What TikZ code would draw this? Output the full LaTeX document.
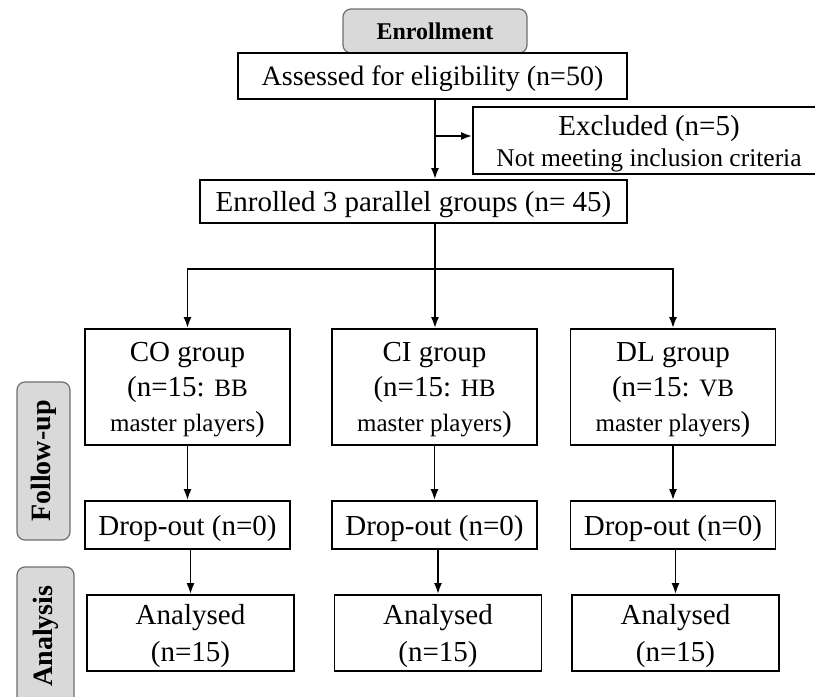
\documentclass[tikz,border=0pt]{standalone}
\usepackage{fontspec}
\setmainfont{Liberation Serif}
\usetikzlibrary{arrows.meta}
\definecolor{tabgray}{HTML}{D9D9D9}
\definecolor{tabline}{HTML}{6E6E6E}
\newcommand{\subsz}{\fontsize{25}{35}\selectfont}
\tikzstyle{phase} = [rectangle, rounded corners=8pt,
draw=tabline,
line width=1.2pt,
fill=tabgray,
inner sep=0pt,
text centered,
font=\fontsize{28}{32}\selectfont\bfseries]
\tikzstyle{box} = [rectangle,
draw=black,
line width=1.8pt,
fill=white,
inner sep=0pt,
text centered,
text depth=0pt,
align=center,
font=\fontsize{29}{35}\selectfont]
\tikzstyle{group} = [box,
minimum width=205pt,
minimum height=116pt]
\tikzstyle{drop} = [box,
minimum width=205pt,
minimum height=48pt]
\tikzstyle{analysed} = [box,
minimum width=207pt,
minimum height=76pt,
font=\fontsize{29}{37}\selectfont]
\tikzstyle{arrow} = [line width=1.8pt, -{Latex[length=11pt,width=8pt]}]
\tikzstyle{line} = [line width=1.8pt]

\begin{document}
\begin{tikzpicture}[x=1pt, y=-1pt]
			\useasboundingbox (0,0) rectangle (815,697);
			\clip (0,0) rectangle (815,697);
			% enrollment part
			\node (enroll) [phase, minimum width=184pt, minimum height=44pt, font=\fontsize{24}{28}\selectfont\bfseries] at (435,31) {Enrollment};
			\node (assess) [box, minimum width=389pt, minimum height=46pt, font=\fontsize{28}{34}\selectfont] at (432.5,76) {Assessed for eligibility (n=50)};
			\node (excl) [box, minimum width=352pt, minimum height=67pt] at (649,140.5) {Excluded (n=5)\\[-4pt]{\fontsize{25.5}{28}\selectfont Not meeting inclusion criteria}};
			\node (enrolled) [box, minimum width=427pt, minimum height=43pt] at (413.5,201.5) {Enrolled 3 parallel groups (n= 45)};
			\coordinate (mid) at (435,136);
			\coordinate (split) at (435,269);

			% three groups
			\node (co) [group] at (187.5,387) {CO group\\(n=15: {\subsz BB}\\{\subsz master players})};
			\node (ci) [group] at (434.5,387) {CI group\\(n=15: {\subsz HB}\\{\subsz master players})};
			\node (dl) [group] at (673,387) {DL group\\(n=15: {\subsz VB}\\{\subsz master players})};
			\node (codrop) [drop] at (187.5,525) {Drop-out (n=0)};
			\node (cidrop) [drop] at (434.5,525) {Drop-out (n=0)};
			\node (dldrop) [drop] at (673,525) {Drop-out (n=0)};
			\node (coana) [analysed] at (190.5,633) {Analysed\\(n=15)};
			\node (ciana) [analysed] at (438,633) {Analysed\\(n=15)};
			\node (dlana) [analysed] at (675.5,633) {Analysed\\(n=15)};

			% side tabs
			\node (follow) [phase, rotate=90, minimum width=158pt, minimum height=53pt] at (43.5,461) {Follow-up};
			\node (analysis) [phase, rotate=90, minimum width=138pt, minimum height=57pt] at (45.5,636) {Analysis};

			\draw[arrow] (assess.south -| mid) -- (enrolled.north -| mid);
			\draw[arrow] (mid) -- (excl.west |- mid);
			\draw[line] (enrolled.south -| split) -- (split);
			\draw[arrow] (split) -| (co);
			\draw[arrow] (split) -- (ci.north -| split);
			\draw[arrow] (split) -| (dl);
			\draw[arrow] (co) edge (codrop)
							(ci) edge (cidrop)
							(dl) edge (dldrop);
			\draw[arrow] (codrop.south -| coana) -- (coana);
			\draw[arrow] (cidrop.south -| ciana) -- (ciana);
			\draw[arrow] (dldrop.south -| dlana) -- (dlana);
		\end{tikzpicture}
\end{document}
